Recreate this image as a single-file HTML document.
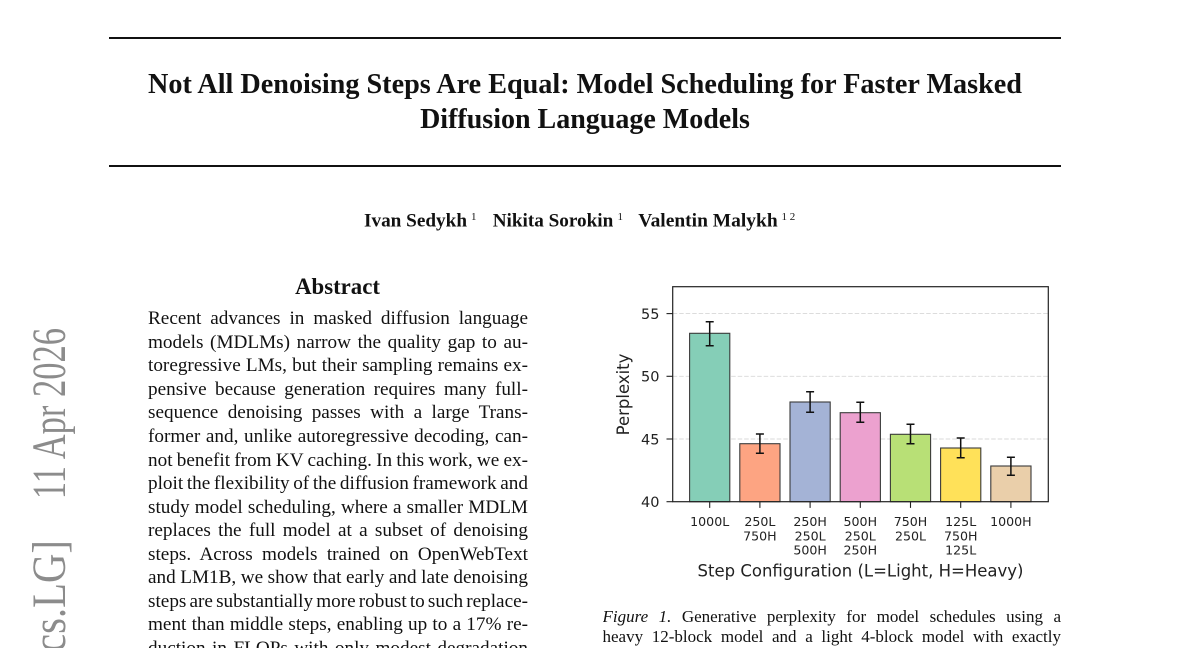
<!DOCTYPE html>
<html>
<head>
<meta charset="utf-8">
<style>
  html,body{margin:0;padding:0;background:#fff;overflow:hidden;}
  body{width:1200px;height:648px;position:relative;overflow:hidden;}
  svg{position:absolute;left:0;top:0;}
  .abs{position:absolute;left:148px;top:307.3px;width:380px;height:340.7px;overflow:hidden;font-family:"Liberation Serif",serif;font-size:19.2px;line-height:23.55px;color:#111;}
  .abs div,.cap div{text-align:justify;text-align-last:justify;word-spacing:-3px;white-space:nowrap;}
  .cap{position:absolute;left:602.5px;top:606.6px;width:458.5px;height:41.4px;overflow:hidden;font-family:"Liberation Serif",serif;font-size:17px;line-height:20.3px;color:#111;}
</style>
</head>
<body>
<svg width="1200" height="648" viewBox="0 0 1200 648" xmlns="http://www.w3.org/2000/svg">
  <!-- rules -->
  <rect x="109" y="37" width="952" height="2" fill="#111"/>
  <rect x="109" y="165" width="952" height="2" fill="#111"/>
  <!-- title -->
  <g font-family="Liberation Serif, serif" font-weight="bold" fill="#111">
    <text x="585" y="93" font-size="28" text-anchor="middle" textLength="874" lengthAdjust="spacingAndGlyphs">Not All Denoising Steps Are Equal: Model Scheduling for Faster Masked</text>
    <text x="585" y="128" font-size="28" text-anchor="middle">Diffusion Language Models</text>
    <!-- authors -->
    <text x="364" y="226.5" font-size="19.2" textLength="103" lengthAdjust="spacingAndGlyphs">Ivan Sedykh</text>
    <text x="471" y="220" font-size="11" font-weight="normal">1</text>
    <text x="492.7" y="226.5" font-size="19.2" textLength="120.6" lengthAdjust="spacingAndGlyphs">Nikita Sorokin</text>
    <text x="617.5" y="220" font-size="11" font-weight="normal">1</text>
    <text x="638.3" y="226.5" font-size="19.2" textLength="139.4" lengthAdjust="spacingAndGlyphs">Valentin Malykh</text>
    <text x="781.5" y="220" font-size="11" font-weight="normal">1 2</text>
    <!-- abstract heading -->
    <text x="337.5" y="294" font-size="22.8" text-anchor="middle">Abstract</text>
  </g>
  <!-- arXiv stamp -->
  <g font-family="Liberation Serif, serif" font-size="34.5" fill="#8c8c8c">
    <text transform="translate(65,328) rotate(-90) scale(1,1.38)" text-anchor="end">11 Apr 2026</text>
    <text transform="translate(65,652) rotate(-90) scale(1,1.38)" x="0" y="0" textLength="112" lengthAdjust="spacingAndGlyphs">cs.LG]</text>
    <text transform="translate(65,655) rotate(-90) scale(1,1.38)" text-anchor="end">arXiv:2604.09731v1 [</text>
  </g>

  <!-- chart -->
  <g>
    <!-- grid -->
    <g stroke="#d8d8d8" stroke-width="0.9" stroke-dasharray="4.5 2">
      <line x1="672.7" y1="313.6" x2="1048.3" y2="313.6"/>
      <line x1="672.7" y1="376.3" x2="1048.3" y2="376.3"/>
      <line x1="672.7" y1="439.0" x2="1048.3" y2="439.0"/>
    </g>
    <!-- bars -->
    <g stroke="#3a3a3a" stroke-width="1.1">
      <rect x="689.6" y="333.3" width="40.2" height="168.4" fill="#85ceb7"/>
      <rect x="739.8" y="443.7" width="40.2" height="58.0" fill="#fda482"/>
      <rect x="790.0" y="402.0" width="40.2" height="99.7" fill="#a4b3d6"/>
      <rect x="840.2" y="412.7" width="40.2" height="89.0" fill="#eca1cf"/>
      <rect x="890.4" y="434.3" width="40.2" height="67.4" fill="#b8e076"/>
      <rect x="940.6" y="448.0" width="40.2" height="53.7" fill="#ffe159"/>
      <rect x="990.8" y="466.0" width="40.2" height="35.7" fill="#eacfaa"/>
    </g>
    <!-- error bars -->
    <g stroke="#111" stroke-width="1.5" fill="none">
      <path d="M709.7 321.7V345.7M705.7 321.7H713.7M705.7 345.7H713.7"/>
      <path d="M759.9 434V453.3M755.9 434H763.9M755.9 453.3H763.9"/>
      <path d="M810.1 391.7V412.3M806.1 391.7H814.1M806.1 412.3H814.1"/>
      <path d="M860.3 402.3V422.3M856.3 402.3H864.3M856.3 422.3H864.3"/>
      <path d="M910.5 424.3V443.7M906.5 424.3H914.5M906.5 443.7H914.5"/>
      <path d="M960.7 438V457.7M956.7 438H964.7M956.7 457.7H964.7"/>
      <path d="M1010.9 457.3V475.3M1006.9 457.3H1014.9M1006.9 475.3H1014.9"/>
    </g>
    <!-- frame -->
    <rect x="672.7" y="286.7" width="375.6" height="215" fill="none" stroke="#222" stroke-width="1.2"/>
    <!-- ticks -->
    <g stroke="#222" stroke-width="1.1">
      <line x1="666.5" y1="501.7" x2="672.7" y2="501.7"/>
      <line x1="666.5" y1="439.0" x2="672.7" y2="439.0"/>
      <line x1="666.5" y1="376.3" x2="672.7" y2="376.3"/>
      <line x1="666.5" y1="313.6" x2="672.7" y2="313.6"/>
      <line x1="709.7" y1="501.7" x2="709.7" y2="507.9"/>
      <line x1="759.9" y1="501.7" x2="759.9" y2="507.9"/>
      <line x1="810.1" y1="501.7" x2="810.1" y2="507.9"/>
      <line x1="860.3" y1="501.7" x2="860.3" y2="507.9"/>
      <line x1="910.5" y1="501.7" x2="910.5" y2="507.9"/>
      <line x1="960.7" y1="501.7" x2="960.7" y2="507.9"/>
      <line x1="1010.9" y1="501.7" x2="1010.9" y2="507.9"/>
    </g>
    <!-- y tick labels -->
    <g font-family="DejaVu Sans, sans-serif" font-size="14.5" fill="#222" text-anchor="end">
      <text x="659.5" y="507">40</text>
      <text x="659.5" y="444.3">45</text>
      <text x="659.5" y="381.6">50</text>
      <text x="659.5" y="318.9">55</text>
    </g>
    <!-- x tick labels -->
    <g font-family="DejaVu Sans, sans-serif" font-size="12.6" fill="#222" text-anchor="middle">
      <text x="709.7" y="526">1000L</text>
      <text x="759.9" y="526">250L</text>
      <text x="759.9" y="540.3">750H</text>
      <text x="810.1" y="526">250H</text>
      <text x="810.1" y="540.3">250L</text>
      <text x="810.1" y="554.6">500H</text>
      <text x="860.3" y="526">500H</text>
      <text x="860.3" y="540.3">250L</text>
      <text x="860.3" y="554.6">250H</text>
      <text x="910.5" y="526">750H</text>
      <text x="910.5" y="540.3">250L</text>
      <text x="960.7" y="526">125L</text>
      <text x="960.7" y="540.3">750H</text>
      <text x="960.7" y="554.6">125L</text>
      <text x="1010.9" y="526">1000H</text>
    </g>
    <!-- axis labels -->
    <text x="860.5" y="576.7" font-family="DejaVu Sans, sans-serif" font-size="16.5" fill="#222" text-anchor="middle">Step Configuration (L=Light, H=Heavy)</text>
    <text transform="translate(629,394.5) rotate(-90)" font-family="DejaVu Sans, sans-serif" font-size="16.5" fill="#222" text-anchor="middle">Perplexity</text>
  </g>
</svg>

<div class="abs">
  <div>Recent advances in masked diffusion language</div>
  <div>models (MDLMs) narrow the quality gap to au-</div>
  <div>toregressive LMs, but their sampling remains ex-</div>
  <div>pensive because generation requires many full-</div>
  <div>sequence denoising passes with a large Trans-</div>
  <div>former and, unlike autoregressive decoding, can-</div>
  <div>not benefit from KV caching. In this work, we ex-</div>
  <div>ploit the flexibility of the diffusion framework and</div>
  <div>study model scheduling, where a smaller MDLM</div>
  <div>replaces the full model at a subset of denoising</div>
  <div>steps. Across models trained on OpenWebText</div>
  <div>and LM1B, we show that early and late denoising</div>
  <div>steps are substantially more robust to such replace-</div>
  <div>ment than middle steps, enabling up to a 17% re-</div>
  <div>duction in FLOPs with only modest degradation</div>
</div>

<div class="cap">
  <div><i>Figure 1.</i> Generative perplexity for model schedules using a</div>
  <div>heavy 12-block model and a light 4-block model with exactly</div>
</div>
</body>
</html>
